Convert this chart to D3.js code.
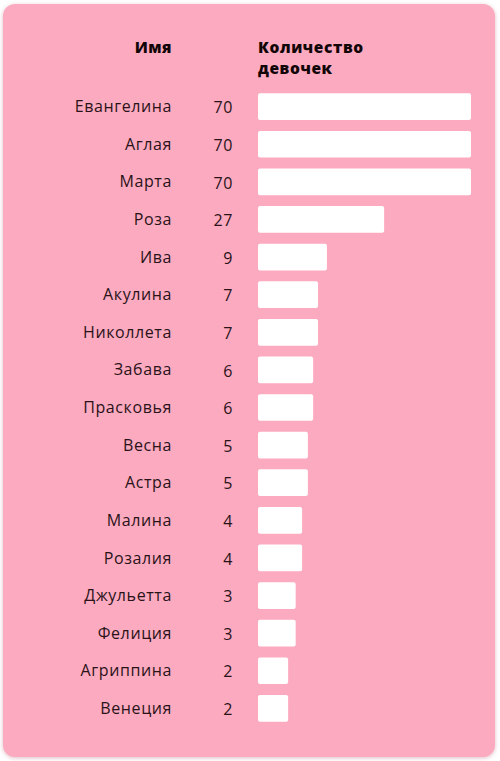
<!DOCTYPE html>
<html><head><meta charset="utf-8">
<script src="https://cdn.jsdelivr.net/npm/d3@7"></script>
<style>html,body{margin:0;padding:0;background:#fff;}svg{display:block;}</style>
</head><body>
<svg id="chart" width="500" height="761"></svg>
<script>
const names = ["Евангелина","Аглая","Марта","Роза","Ива","Акулина","Николлета","Забава","Прасковья","Весна","Астра","Малина","Розалия","Джульетта","Фелиция","Агриппина","Венеция"];
const counts = [70,70,70,27,9,7,7,6,6,5,5,4,4,3,3,2,2];
const headers = ["Имя", ["Количество","девочек"]];

const W = 500, H = 761;
const svg = d3.select("#chart");
const defs = svg.append("defs");
const f = defs.append("filter").attr("id","sh").attr("x","-5%").attr("y","-5%").attr("width","110%").attr("height","110%");
f.append("feDropShadow").attr("dx",0).attr("dy",1).attr("stdDeviation",2).attr("flood-color","#c07a8c").attr("flood-opacity",0.5);

svg.append("rect").attr("x",3).attr("y",4).attr("width",492).attr("height",753).attr("rx",12)
  .attr("fill","#fcaabf").attr("filter","url(#sh)");

const font = "'Open Sans', 'Noto Sans', sans-serif";
const textColor = "#2a1219";

const y = d3.scaleBand().domain(names).range([88, 727]).paddingInner(0.29).paddingOuter(0.14);
const x = d3.scalePow().exponent(0.55).domain([0,70]).range([258, 471]);

// headers
svg.append("text").attr("x",172).attr("y",53).attr("text-anchor","end")
  .attr("font-family",font).attr("font-weight",800).attr("font-size",15.5).attr("letter-spacing",0.5).attr("fill","#120508").text(headers[0]);
const h2 = svg.append("text").attr("x",258).attr("y",53)
  .attr("font-family",font).attr("font-weight",800).attr("font-size",15.5).attr("letter-spacing",0.6).attr("fill","#120508");
h2.selectAll("tspan").data(headers[1]).join("tspan").attr("x",258).attr("dy",(d,i)=>i?21:0).text(d=>d);

const rows = svg.append("g").selectAll("g").data(names).join("g");
rows.append("rect").attr("x",x(0)).attr("y",d=>y(d)).attr("height",y.bandwidth())
  .attr("width",(d,i)=>x(counts[i])-x(0)).attr("rx",2).attr("fill","#ffffff");
rows.append("text").attr("x",172).attr("y",d=>y(d)+y.bandwidth()/2).attr("dy","0.35em")
  .attr("text-anchor","end").attr("font-family",font).attr("font-weight",500).attr("font-size",16).attr("letter-spacing",0.6).attr("fill",textColor).text(d=>d);
rows.append("text").attr("x",233).attr("y",d=>y(d)+y.bandwidth()/2).attr("dy","0.42em")
  .attr("text-anchor","end").attr("font-family",font).attr("font-weight",500).attr("font-size",16).attr("letter-spacing",0.6).attr("fill",textColor).text((d,i)=>counts[i]);
</script>
</body></html>
